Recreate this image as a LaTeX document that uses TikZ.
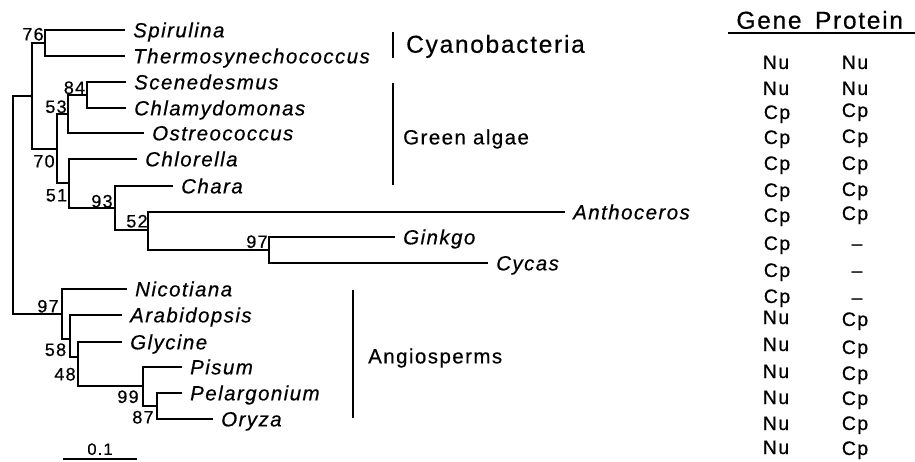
\documentclass[tikz,border=0pt]{standalone}
\usepackage{fontspec}
\setmainfont{Liberation Sans}
\newfontfamily\spaced[LetterSpace=7,FakeBold=0.5]{Liberation Sans}
\usetikzlibrary{positioning}

\begin{document}
\begin{tikzpicture}[x=1pt,y=-1pt,
    branch/.style={line width=1.8pt},
    taxon/.style={font=\spaced\itshape\fontsize{20.5}{20.5}\selectfont,anchor=west,
      inner xsep=8pt,inner ysep=0pt,text height=14.7pt,text depth=0pt},
    boot/.style={font=\spaced\fontsize{18}{18}\selectfont,inner sep=0pt,
      text height=12.9pt,text depth=0pt},
    clade/.style={font=\spaced\fontsize{20.5}{20.5}\selectfont,anchor=west,
      inner sep=0pt,text height=14.7pt,text depth=0pt},
    cell/.style={font=\spaced\fontsize{19.5}{19.5}\selectfont,inner sep=0pt,
      text height=14pt,text depth=0pt}]
  \useasboundingbox (0,0) rectangle (915,462);
  % internal nodes of the tree
  \coordinate (root) at (13,205);
  \coordinate (cyplant) at (32,96);
  \coordinate (cyano) at (45,43);
  \coordinate (plant) at (57,149);
  \coordinate (chlo53) at (68,114);
  \coordinate (chlo84) at (87,95);
  \coordinate (land51) at (69,183);
  \coordinate (land93) at (115,208);
  \coordinate (land52) at (148,230);
  \coordinate (gymno) at (269,250);
  \coordinate (angio) at (62,314);
  \coordinate (ang58) at (70,339);
  \coordinate (ang48) at (78,357);
  \coordinate (ang99) at (143,386);
  \coordinate (ang87) at (157,406);
  % leaves
  \node[taxon] (spir) at (125,30) {Spirulina};
  \node[taxon] (therm) at (125,56) {Thermosynechococcus};
  \node[taxon] (scen) at (126,82) {Scenedesmus};
  \node[taxon] (chlam) at (126,108) {Chlamydomonas};
  \node[taxon] (ostr) at (144,133) {Ostreococcus};
  \node[taxon] (chlor) at (137,159) {Chlorella};
  \node[taxon] (chara) at (173,186) {Chara};
  \node[taxon] (antho) at (565,212) {Anthoceros};
  \node[taxon] (ginkgo) at (395,237) {Ginkgo};
  \node[taxon] (cycas) at (488,263) {Cycas};
  \node[taxon] (nicot) at (127,289) {Nicotiana};
  \node[taxon] (arabi) at (122,315) {Arabidopsis};
  \node[taxon] (glyc) at (122,342) {Glycine};
  \node[taxon] (pisum) at (182,367) {Pisum};
  \node[taxon] (pelar) at (182,393) {Pelargonium};
  \node[taxon] (oryza) at (213,419) {Oryza};
  % branches
  \draw[branch] (root) |- (cyplant);
  \draw[branch] (root) |- (angio);
  \draw[branch] (cyplant) |- (cyano);
  \draw[branch] (cyplant) |- (plant);
  \draw[branch] (cyano) |- (spir.west);
  \draw[branch] (cyano) |- (therm.west);
  \draw[branch] (plant) |- (chlo53);
  \draw[branch] (plant) |- (land51);
  \draw[branch] (chlo53) |- (chlo84);
  \draw[branch] (chlo53) |- (ostr.west);
  \draw[branch] (chlo84) |- (scen.west);
  \draw[branch] (chlo84) |- (chlam.west);
  \draw[branch] (land51) |- (chlor.west);
  \draw[branch] (land51) |- (land93);
  \draw[branch] (land93) |- (chara.west);
  \draw[branch] (land93) |- (land52);
  \draw[branch] (land52) |- (antho.west);
  \draw[branch] (land52) |- (gymno);
  \draw[branch] (gymno) |- (ginkgo.west);
  \draw[branch] (gymno) |- (cycas.west);
  \draw[branch] (angio) |- (nicot.west);
  \draw[branch] (angio) |- (ang58);
  \draw[branch] (ang58) |- (arabi.west);
  \draw[branch] (ang58) |- (ang48);
  \draw[branch] (ang48) |- (glyc.west);
  \draw[branch] (ang48) |- (ang99);
  \draw[branch] (ang99) |- (pisum.west);
  \draw[branch] (ang99) |- (ang87);
  \draw[branch] (ang87) |- (pelar.west);
  \draw[branch] (ang87) |- (oryza.west);
  % bootstrap values
  \node[boot] (b76) at (33,34) {76};
  \node[boot] (b84) at (74.5,87.5) {84};
  \node[boot] (b53) at (56,106.5) {53};
  \node[boot] (b70) at (44,161) {70};
  \node[boot] (b51) at (56.5,195) {51};
  \node[boot] (b93) at (102,201) {93};
  \node[boot] (b52) at (137,221) {52};
  \node[boot] (b97g) at (257,241.5) {97};
  \node[boot] (b97a) at (48,306) {97};
  \node[boot] (b58) at (55.5,349.5) {58};
  \node[boot] (b48) at (65,374) {48};
  \node[boot] (b99) at (128,396.5) {99};
  \node[boot] (b87) at (143,417) {87};
  % clade bars
  \coordinate (cy-top) at (393,32);
  \coordinate (cy-bot) at (393,58);
  \coordinate (ga-top) at (393,83);
  \coordinate (ga-bot) at (393,185);
  \coordinate (an-top) at (353,290);
  \coordinate (an-bot) at (353,418);
  \draw[branch] (cy-top) -- (cy-bot);
  \draw[branch] (ga-top) -- (ga-bot);
  \draw[branch] (an-top) -- (an-bot);
  \node[clade,font=\spaced\fontsize{24.5}{24.5}\selectfont,text height=17.5pt] (cyan) at (406,44) {Cyanobacteria};
  \node[clade] (green) at (403,137) {Green algae};
  \node[clade] (angios) at (368,356) {Angiosperms};
  % scale bar
  \coordinate (sc-l) at (63,459);
  \coordinate (sc-r) at (137,459);
  \draw[branch] (sc-l) -- (sc-r);
  \node[boot,font=\spaced\fontsize{16.5}{16.5}\selectfont,text height=11.8pt] (scale) at (100,449) {0.1};
  % gene / protein table
  \node[cell,font=\spaced\fontsize{24.5}{24.5}\selectfont,text height=17.5pt] (gene) at (769,20) {Gene};
  \node[cell,font=\spaced\fontsize{24.5}{24.5}\selectfont,text height=17.5pt] (prot) at (859,20) {Protein};
  \coordinate (rule-l) at (728,33);
  \coordinate (rule-r) at (915,33);
  \draw[branch] (rule-l) -- (rule-r);
  \node[cell] (g1) at (776,62) {Nu};   \node[cell] (p1) at (855,62) {Nu};
  \node[cell] (g2) at (776,88) {Nu};   \node[cell] (p2) at (855,88) {Nu};
  \node[cell] (g3) at (777,112) {Cp};  \node[cell] (p3) at (855,110) {Cp};
  \node[cell] (g4) at (777,137) {Cp};  \node[cell] (p4) at (855,136) {Cp};
  \node[cell] (g5) at (777,163) {Cp};  \node[cell] (p5) at (855,163) {Cp};
  \node[cell] (g6) at (777,190) {Cp};  \node[cell] (p6) at (855,189) {Cp};
  \node[cell] (g7) at (777,215) {Cp};  \node[cell] (p7) at (855,213) {Cp};
  \node[cell] (g8) at (777,243) {Cp};  \node[cell] (p8) at (857,243) {–};
  \node[cell] (g9) at (777,270) {Cp};  \node[cell] (p9) at (857,270) {–};
  \node[cell] (g10) at (777,296) {Cp}; \node[cell] (p10) at (857,297) {–};
  \node[cell] (g11) at (776,317) {Nu}; \node[cell] (p11) at (855,319) {Cp};
  \node[cell] (g12) at (776,344) {Nu}; \node[cell] (p12) at (855,347) {Cp};
  \node[cell] (g13) at (776,371) {Nu}; \node[cell] (p13) at (855,373) {Cp};
  \node[cell] (g14) at (776,397) {Nu}; \node[cell] (p14) at (855,398) {Cp};
  \node[cell] (g15) at (776,423) {Nu}; \node[cell] (p15) at (855,423) {Cp};
  \node[cell] (g16) at (776,447) {Nu}; \node[cell] (p16) at (855,448) {Cp};
\end{tikzpicture}
\end{document}
